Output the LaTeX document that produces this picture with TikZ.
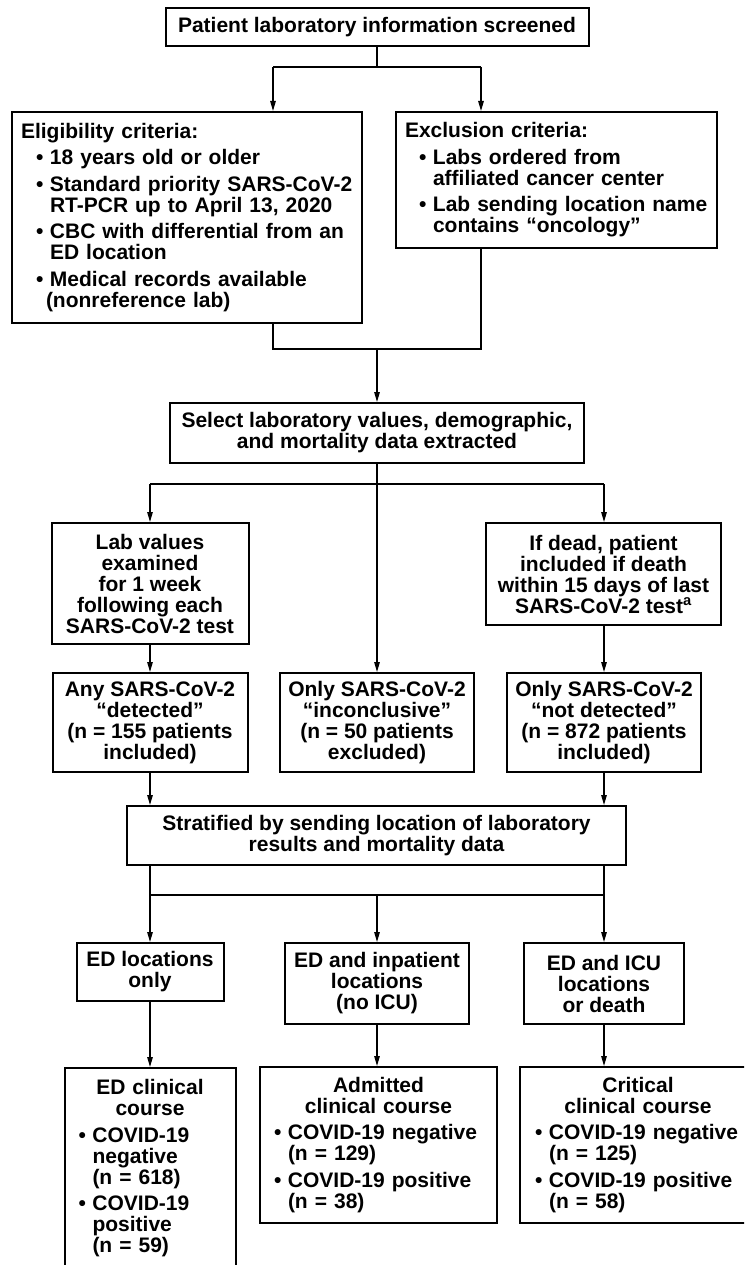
\documentclass[tikz,border=0pt]{standalone}
\usepackage{fontspec}
\setmainfont{Liberation Sans}
\usetikzlibrary{arrows.meta}
\newcommand\bulx[1]{\hspace*{#1}\makebox[14pt][l]{\textbullet}}
\newcommand\contx[1]{\hspace*{#1}\hspace*{14pt}}
\newcommand\hdx[1]{\makebox[\linewidth]{#1}}
\begin{document}
\begin{tikzpicture}[x=1pt,y=-1pt,
  box/.style={draw,line width=2pt,inner sep=0pt,font=\fontsize{21}{21}\selectfont\bfseries,align=center},
  lbox/.style={box,align=left},
  conn/.style={line width=1.3pt},
  arr/.style={conn,-{Triangle[length=10pt,width=5.5pt]}}]
\useasboundingbox (0,0) rectangle (744,1265);
\fill[white] (0,0) rectangle (744,1265);
\clip (0,0) rectangle (744,1265);

% nodes
\node[box,minimum width=423pt,minimum height=38pt] (top) at (377,27) {Patient laboratory information screened};

\node[lbox,minimum width=350pt,minimum height=211pt,text width=332pt] (elig) at (187,217.5) {%
Eligibility criteria:\\[5.5pt]
\bulx{15pt}18 years old or older\\[5.5pt]
\bulx{15pt}Standard priority SARS-CoV-2\\
\contx{15pt}RT-PCR up to April 13, 2020\\[5.5pt]
\bulx{15pt}CBC with differential from an\\
\contx{15pt}ED location\\[5.5pt]
\bulx{15pt}Medical records available\\
\contx{11pt}(nonreference lab)};

\node[lbox,minimum width=321pt,minimum height=136pt,text width=303pt] (excl) at (556.5,180) {%
Exclusion criteria:\\[5.5pt]
\bulx{14pt}Labs ordered from\\
\contx{14pt}affiliated cancer center\\[5.5pt]
\bulx{14pt}Lab sending location name\\
\contx{14pt}contains “oncology”};

\node[box,minimum width=414pt,minimum height=60pt] (sel) at (377,433) {Select laboratory values, demographic,\\and mortality data extracted};

\node[box,minimum width=197pt,minimum height=121pt] (labv) at (150,583.5) {Lab values\\examined\\for 1 week\\following each\\SARS-CoV-2 test};
\node[box,minimum width=235pt,minimum height=102pt] (dead) at (603.5,574) {If dead, patient\\included if death\\within 15 days of last\\SARS-CoV-2 test\textsuperscript{a}};

\node[box,minimum width=195pt,minimum height=99pt] (any) at (150,722.5) {Any SARS-CoV-2\\“detected”\\(n = 155 patients\\included)};
\node[box,minimum width=194pt,minimum height=99pt] (inc) at (377,722.5) {Only SARS-CoV-2\\“inconclusive”\\(n = 50 patients\\excluded)};
\node[box,minimum width=194pt,minimum height=99pt] (notdet) at (604,722.5) {Only SARS-CoV-2\\“not detected”\\(n = 872 patients\\included)};

\node[box,minimum width=499pt,minimum height=59pt] (strat) at (376.5,835.5) {Stratified by sending location of laboratory\\results and mortality data};

\node[box,minimum width=147pt,minimum height=58pt] (edloc) at (150,972) {ED locations\\only};
\node[box,minimum width=184pt,minimum height=81pt] (edinp) at (377,983.5) {ED and inpatient\\locations\\(no ICU)};
\node[box,minimum width=160pt,minimum height=81pt] (edicu) at (604,983.5) {ED and ICU\\locations\\or death};

\node[lbox,anchor=north,minimum width=171pt,text width=153pt,inner ysep=11.5pt,text depth=200pt] (edcc) at (150,1067) {%
\hdx{ED clinical}\\
\hdx{course}\\[5.5pt]
\bulx{5pt}COVID-19\\
\contx{5pt}negative\\
\contx{5pt}(n = 618)\\[5.5pt]
\bulx{5pt}COVID-19\\
\contx{5pt}positive\\
\contx{5pt}(n = 59)};

\node[lbox,minimum width=237pt,minimum height=156pt,text width=219pt] (adm) at (378.5,1145) {%
\hdx{Admitted}\\
\hdx{clinical course}\\[5.5pt]
\bulx{5pt}COVID-19 negative\\
\contx{5pt}(n = 129)\\[5.5pt]
\bulx{5pt}COVID-19 positive\\
\contx{5pt}(n = 38)};

\node[lbox,minimum width=236pt,minimum height=156pt,text width=218pt] (crit) at (638,1145) {%
\hdx{Critical}\\
\hdx{clinical course}\\[5.5pt]
\bulx{6pt}COVID-19 negative\\
\contx{6pt}(n = 125)\\[5.5pt]
\bulx{6pt}COVID-19 positive\\
\contx{6pt}(n = 58)};

% connectors
\coordinate (b1) at (377,67);
\coordinate (b1l) at (273,67);
\coordinate (b1r) at (481,67);
\draw[conn] (top.south) -- (b1);
\draw[conn] (b1l) -- (b1r);
\draw[arr] (b1l) -- (b1l |- elig.north);
\draw[arr] (b1r) -- (b1r |- excl.north);

\coordinate (b2) at (377,349);
\coordinate (b2l) at (273,349);
\coordinate (b2r) at (481,349);
\draw[conn] (b2l |- elig.south) -- (b2l) -- (b2r) -- (b2r |- excl.south);
\draw[arr] (b2) -- (sel.north);

\coordinate (b3l) at (150,484);
\coordinate (b3r) at (604,484);
\draw[conn] (b3l) -- (b3r);
\draw[arr] (sel.south) -- (inc.north);
\draw[arr] (b3l) -- (b3l |- labv.north);
\draw[arr] (b3r) -- (b3r |- dead.north);
\draw[arr] (labv.south) -- (any.north);
\draw[arr] (notdet.north |- dead.south) -- (notdet.north);
\draw[arr] (any.south) -- (any.south |- strat.north);
\draw[arr] (notdet.south) -- (notdet.south |- strat.north);

\coordinate (b4) at (377,895);
\coordinate (b4l) at (150,895);
\coordinate (b4r) at (604,895);
\draw[arr] (b4l |- strat.south) -- (edloc.north);
\draw[arr] (b4r |- strat.south) -- (edicu.north);
\draw[conn] (b4l) -- (b4r);
\draw[arr] (b4) -- (edinp.north);

\draw[arr] (edloc.south) -- (edcc.north);
\draw[arr] (edinp.south) -- (edinp.south |- adm.north);
\draw[arr] (edicu.south) -- (edicu.south |- crit.north);
\end{tikzpicture}
\end{document}
